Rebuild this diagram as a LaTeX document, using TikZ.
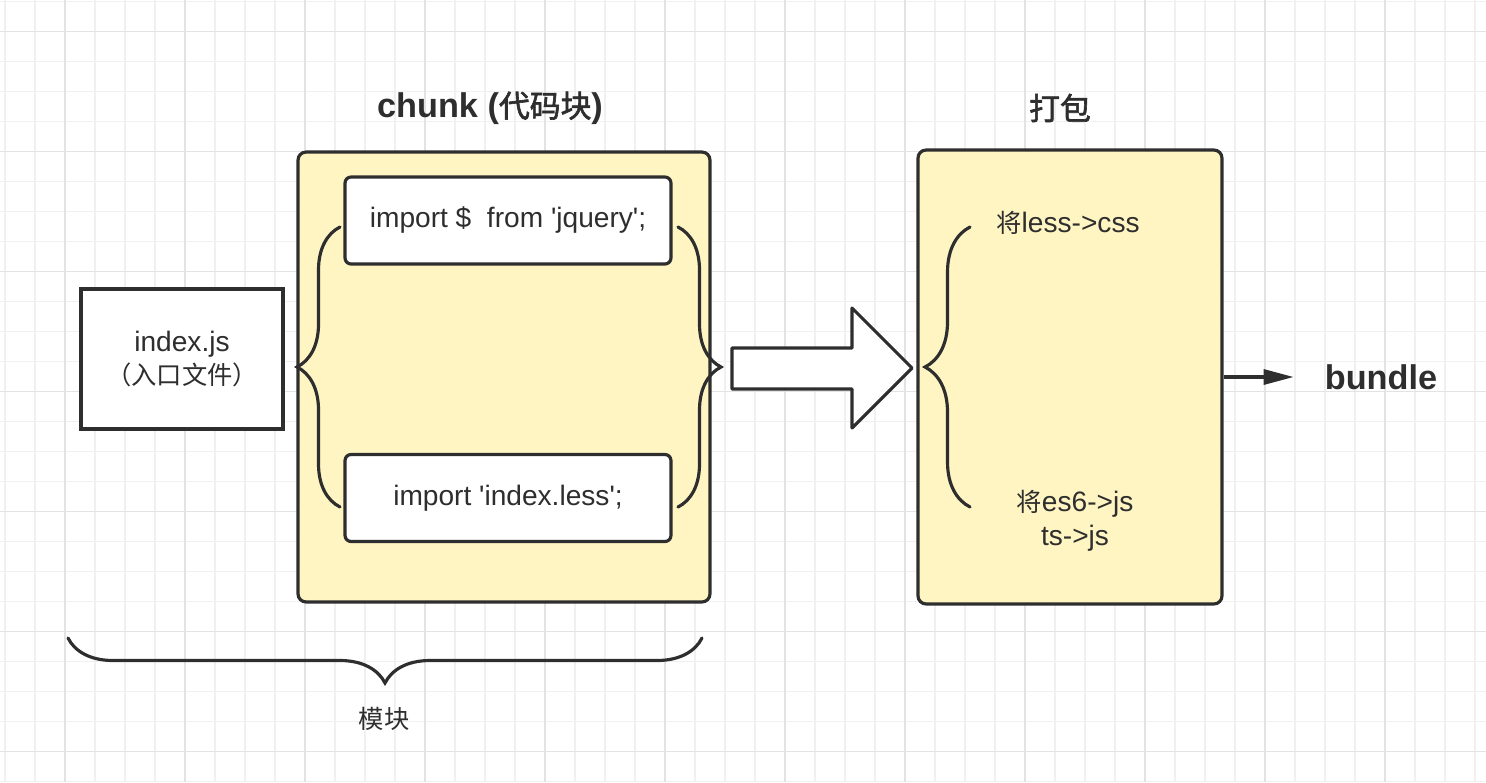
\documentclass[tikz,border=0pt]{standalone}
\usepackage{fontspec}
\setmainfont{Liberation Sans}[Ligatures=TeXOff]
\newfontfamily\cjk{Noto Sans CJK SC}[Scale=0.9,AutoFakeBold=2]
\usetikzlibrary{positioning,arrows.meta,decorations.pathreplacing}

\definecolor{inkgray}{HTML}{2E2E2E}
\definecolor{boxyellow}{HTML}{FFF5C3}
\definecolor{gridminor}{HTML}{F0F0F0}
\definecolor{gridmajor}{HTML}{E3E3E3}

\providecommand*{\gxMax}{}
\providecommand*{\gyMax}{}
\renewcommand*{\gxMax}{1486}
\renewcommand*{\gyMax}{782}

\tikzset{
  every node/.style={text=inkgray},
  bodyfont/.style={font=\fontsize{16}{19.3}\selectfont},
  titlefont/.style={font=\fontsize{19.5}{23}\selectfont\bfseries},
  plainbox/.style={draw=inkgray, line width=1.8pt, fill=white, align=center,
    inner sep=0pt, bodyfont},
  yellowbox/.style={draw=inkgray, line width=1.8pt, fill=boxyellow,
    rounded corners=0.16cm, inner sep=0pt},
  codebox/.style={plainbox, rounded corners=0.12cm,
    minimum width=6.52cm, minimum height=1.74cm},
  bracepath/.style={draw=inkgray, line width=1.8pt, line cap=round,
    decorate, decoration={brace, amplitude=#1}},
  bigarrow/.style={draw=inkgray, line width=1.8pt, fill=white, line join=round},
}

\begin{document}
\begin{tikzpicture}[x=0.02cm, y=-0.02cm]
  \useasboundingbox (0,0) rectangle (\gxMax,\gyMax);
  % background grid
  \foreach \i in {5,35,...,\gxMax} {
    \draw [gridminor,line width=0.8pt] (\i,0) -- (\i,\gyMax);
  }
  \foreach \i in {1.7,31.7,...,\gyMax} {
    \draw [gridminor,line width=0.8pt] (0,\i) -- (\gxMax,\i);
  }
  \foreach \i in {65,185,...,\gxMax} {
    \draw [gridmajor,line width=0.8pt] (\i,0) -- (\i,\gyMax);
  }
  \foreach \i in {31.7,151.7,...,\gyMax} {
    \draw [gridmajor,line width=0.8pt] (0,\i) -- (\gxMax,\i);
  }

  % entry file
  \node [plainbox, minimum width=4.04cm, minimum height=2.8cm] (entry) at (182,359)
    {index.js\\{\cjk （入口文件）}};

  % chunk
  \node [yellowbox, minimum width=8.24cm, minimum height=9cm] (chunk) at (504,377) {};
  \node [titlefont] (chunktitle) at (490,108) {chunk ({\cjk 代码块})};
  \node [codebox] (jquery) at (508,220.5) {import \$\ \ from 'jquery';};
  \node [codebox] (lessfile) at (508,498) {import 'index.less';};
  \draw [bracepath=0.86cm] (340,507) -- (340,227);
  \draw [bracepath=0.86cm] (678,227) -- (678,507);

  % packing
  \draw [bigarrow] (732,348) -- (852,348) -- (852,308) -- (912,368)
    -- (852,428) -- (852,389) -- (732,389) -- cycle;
  \node [yellowbox, minimum width=6.08cm, minimum height=9.08cm] (pack) at (1070,377) {};
  \node [titlefont] (packtitle) at (1060,108) {\cjk 打包};
  \draw [bracepath=0.9cm] (970,507) -- (970,227);
  \node [bodyfont] (lesscss) at (1068,223) {{\cjk 将}less->css};
  \node [bodyfont, align=center] (es6js) at (1075,521) {{\cjk 将}es6->js\\ts->js};

  % output
  \node [titlefont] (bundle) at (1381,377) {bundle};
  \draw [draw=inkgray, line width=1.8pt, shorten >=0.5cm,
    -{Triangle[length=0.6cm,width=0.3cm]}] (pack.east |- bundle) -- (bundle.west);

  % modules
  \draw [bracepath=0.9cm] (702,638) -- (68,638);
  \node [bodyfont] (modules) at (384,719) {\cjk 模块};
\end{tikzpicture}
\end{document}
